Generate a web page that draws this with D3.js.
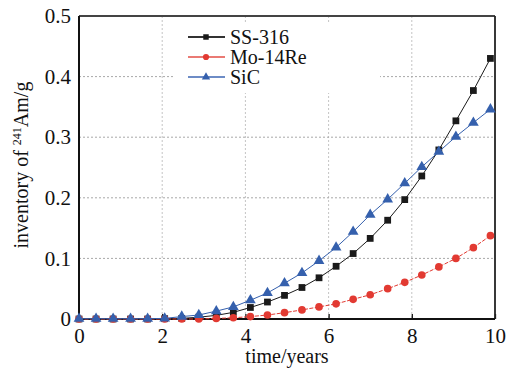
<!DOCTYPE html>
<html>
<head>
<meta charset="utf-8">
<script src="https://cdn.jsdelivr.net/npm/d3@7"></script>
<style>
  body { margin: 0; background: #fff; }
</style>
</head>
<body>
<svg id="chart" width="513" height="371"></svg>
<script>
// time points (years)
var years = [0, 0.41, 0.82, 1.24, 1.65, 2.06, 2.47, 2.88, 3.3, 3.71, 4.12, 4.53, 4.94, 5.36, 5.77, 6.18, 6.59, 7.0, 7.42, 7.83, 8.24, 8.65, 9.06, 9.48, 9.89];

var ss316 = [0, 0, 0, 0, 0, 0.0005, 0.001, 0.003, 0.006, 0.011, 0.019, 0.028, 0.039, 0.052, 0.068, 0.087, 0.108, 0.133, 0.163, 0.197, 0.236, 0.279, 0.327, 0.377, 0.430];
var mo14re = [0, 0, 0, 0, 0, 0, 0, 0, 0.001, 0.002, 0.004, 0.0066, 0.0104, 0.015, 0.020, 0.025, 0.0325, 0.040, 0.050, 0.0605, 0.0726, 0.086, 0.100, 0.1177, 0.1375];
var sic = [0.0005, 0.0005, 0.0005, 0.0005, 0.0005, 0.001, 0.004, 0.0066, 0.013, 0.020, 0.031, 0.043, 0.059, 0.076, 0.096, 0.118, 0.144, 0.172, 0.1975, 0.224, 0.251, 0.276, 0.301, 0.324, 0.346];

var seriesNames = ["SS-316", "Mo-14Re", "SiC"];
var xTicks = [0, 2, 4, 6, 8, 10];
var yTicks = [0, 0.1, 0.2, 0.3, 0.4, 0.5];

var FONT = "'Liberation Serif', 'Times New Roman', Times, serif";

var margin = {top: 16, right: 18, bottom: 52, left: 79};
var width = 513 - margin.left - margin.right,
    height = 371 - margin.top - margin.bottom;

var svg = d3.select("#chart");
var g = svg.append("g")
    .attr("transform", "translate(" + margin.left + "," + margin.top + ")");

var x = d3.scaleLinear().domain([0, 10]).range([0, width]);
var y = d3.scaleLinear().domain([0, 0.5]).range([height, 0]);

// grid
g.selectAll(".vgrid").data(xTicks.slice(1, -1)).enter().append("line")
    .attr("x1", function(d) { return x(d); }).attr("x2", function(d) { return x(d); })
    .attr("y1", 0).attr("y2", height)
    .attr("stroke", "#c4c4c4").attr("stroke-dasharray", "2,2");
g.selectAll(".hgrid").data(yTicks.slice(1, -1)).enter().append("line")
    .attr("x1", 0).attr("x2", width)
    .attr("y1", function(d) { return y(d); }).attr("y2", function(d) { return y(d); })
    .attr("stroke", "#a8a8a8").attr("stroke-dasharray", "2,2");

// legend background hides the grid
g.append("rect")
    .attr("x", 96).attr("y", 6).attr("width", 205).attr("height", 71)
    .attr("fill", "#fff");

// axes
var xAxis = d3.axisBottom(x).tickValues(xTicks).tickSize(-5).tickPadding(9)
    .tickFormat(function(d) { return d; });
var yAxis = d3.axisLeft(y).tickValues(yTicks).tickSize(0).tickPadding(8)
    .tickFormat(function(d) { return d === 0 ? "0" : d.toFixed(1); });

g.append("g").attr("transform", "translate(0," + height + ")").call(xAxis)
    .attr("font-family", FONT).attr("font-size", 21)
    .call(function(a) {
        a.select(".domain").remove();
        a.selectAll("line").attr("stroke", "#111").attr("stroke-width", 1.3);
        a.selectAll("text").attr("fill", "#111");
    });
g.append("g").call(yAxis)
    .attr("font-family", FONT).attr("font-size", 21)
    .call(function(a) {
        a.select(".domain").remove();
        a.selectAll("text").attr("fill", "#111");
    });

// frame
g.append("line").attr("x1", 0).attr("x2", width).attr("y1", 0).attr("y2", 0)
    .attr("stroke", "#444").attr("stroke-width", 1.8);
g.append("line").attr("x1", width).attr("x2", width).attr("y1", 0).attr("y2", height)
    .attr("stroke", "#222").attr("stroke-width", 1.8);
g.append("line").attr("x1", 0).attr("x2", 0).attr("y1", 0).attr("y2", height)
    .attr("stroke", "#111").attr("stroke-width", 2);
g.append("line").attr("x1", 0).attr("x2", width).attr("y1", height).attr("y2", height)
    .attr("stroke", "#111").attr("stroke-width", 2);

// series
var series = [
    {name: seriesNames[0], values: ss316, color: "#1a1a1a", legColor: "#333", dash: null, shape: d3.symbolSquare, size: 46},
    {name: seriesNames[1], values: mo14re, color: "#e23a32", legColor: "#ea7a74", dash: "4,1.5", shape: d3.symbolCircle, size: 46},
    {name: seriesNames[2], values: sic, color: "#3560ad", legColor: "#6d8cc6", dash: null, shape: d3.symbolTriangle, size: 50}
];

var line = d3.line()
    .x(function(d) { return x(d[0]); })
    .y(function(d) { return y(d[1]); });

series.forEach(function(s) {
    var pts = years.map(function(t, i) { return [t, s.values[i]]; });
    g.append("path").datum(pts)
        .attr("fill", "none")
        .attr("stroke", s.color)
        .attr("stroke-width", 1)
        .attr("stroke-dasharray", s.dash)
        .attr("d", line);
    g.selectAll(null).data(pts).enter().append("path")
        .attr("transform", function(d) { return "translate(" + x(d[0]) + "," + y(d[1]) + ")"; })
        .attr("d", d3.symbol().type(s.shape).size(s.size))
        .attr("fill", s.color);
});

// legend
var leg = g.selectAll(".leg").data(series).enter().append("g")
    .attr("transform", function(d, i) { return "translate(109," + (21 + i * 20) + ")"; });
leg.append("line").attr("x1", 0).attr("x2", 37).attr("y1", 0).attr("y2", 0)
    .attr("stroke", function(d) { return d.legColor; }).attr("stroke-width", 2);
leg.append("path").attr("transform", "translate(18,0)")
    .attr("d", function(d) { return d3.symbol().type(d.shape).size(30)(); })
    .attr("fill", function(d) { return d.color; });
leg.append("text").attr("x", 42).attr("y", 0).attr("dy", "0.35em")
    .attr("font-family", FONT).attr("font-size", 20).attr("fill", "#111")
    .text(function(d) { return d.name; });

// axis titles
svg.append("text")
    .attr("x", margin.left + width / 2).attr("y", 363)
    .attr("text-anchor", "middle")
    .attr("font-family", FONT).attr("font-size", 20).attr("fill", "#111")
    .text("time/years");

var yl = svg.append("text")
    .attr("transform", "translate(28,165) rotate(-90)")
    .attr("text-anchor", "middle")
    .attr("font-family", FONT).attr("font-size", 20).attr("fill", "#111");
yl.append("tspan").text("inventory of ");
yl.append("tspan").attr("baseline-shift", "super").attr("font-size", 12).text("241");
yl.append("tspan").text("Am/g");
</script>
</body>
</html>
